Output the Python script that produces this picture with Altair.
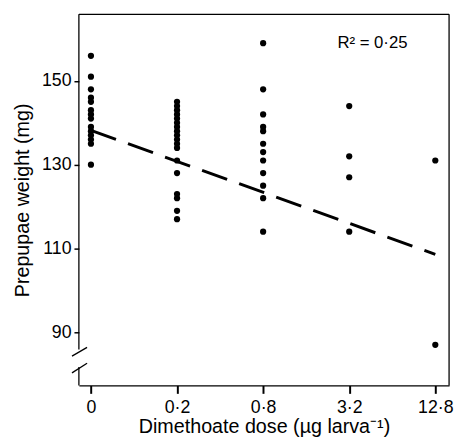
import altair as alt
import pandas as pd

# ---- data ----
dose_labels = ["0", "0·2", "0·8", "3·2", "12·8"]
w_d0 = [156, 151, 148, 146, 145, 143, 142, 141, 139, 138, 137, 136, 135, 130]
w_d02 = [145, 144, 143, 142, 141, 140, 139, 138, 137, 136, 135, 134, 131, 128, 123, 122, 119, 117]
w_d08 = [159, 148, 142, 139, 138, 135, 133, 131, 128, 125, 122, 114]
w_d32 = [144, 132, 127, 114]
w_d128 = [131, 87]
fit_dose_idx = [0, 4]
fit_weight = [138.2, 108.6]
r2_text = "R² = 0·25"

# ---- build tables ----
rows = []
for i, ws in enumerate([w_d0, w_d02, w_d08, w_d32, w_d128]):
    for w in ws:
        rows.append({"idx": i, "w": w})
pts = pd.DataFrame(rows)
fit = pd.DataFrame({"idx": fit_dose_idx, "w": fit_weight})

xmin, xmax = -0.14, 4.16
ymin, ymax = 77.3, 165.9
brk_lo, brk_hi = 81.7, 85.9

frame = pd.DataFrame([
    {"x": xmin, "y": ymax, "x2": xmax, "y2": ymax},
    {"x": xmax, "y": ymax, "x2": xmax, "y2": ymin},
    {"x": xmin, "y": ymax, "x2": xmin, "y2": brk_hi},
    {"x": xmin, "y": brk_lo, "x2": xmin, "y2": ymin},
])
slashes = pd.DataFrame([
    {"x": xmin - 0.08, "y": brk_hi - 1.6, "x2": xmin + 0.095, "y2": brk_hi + 0.5},
    {"x": xmin - 0.08, "y": brk_lo - 1.4, "x2": xmin + 0.095, "y2": brk_lo + 0.9},
])

FONT = "Liberation Sans"
label_expr = "[" + ",".join("'%s'" % l for l in dose_labels) + "][datum.value]"

xs = alt.Scale(domain=[xmin, xmax], nice=False, zero=False)
ys = alt.Scale(domain=[ymin, ymax], nice=False, zero=False)

x_axis = alt.Axis(values=[0, 1, 2, 3, 4], labelExpr=label_expr, title="Dimethoate dose (µg larva⁻¹)",
                  grid=False, domain=True, domainColor="black", domainWidth=1.3,
                  ticks=True, tickSize=8, tickWidth=2, tickColor="black",
                  labelFontSize=18, labelColor="black", labelFont=FONT, labelPadding=5,
                  titleFontSize=20, titleFont=FONT, titleFontWeight="normal", titleColor="black", titlePadding=1)
y_axis = alt.Axis(values=[90, 110, 130, 150], title="Prepupae weight (mg)",
                  grid=False, domain=False, ticks=True, tickSize=5, tickWidth=1.5, tickColor="black",
                  labelFontSize=18, labelColor="black", labelFont=FONT, labelPadding=3,
                  titleFontSize=20, titleFont=FONT, titleFontWeight="normal", titleColor="black", titlePadding=9)

points = alt.Chart(pts).mark_circle(size=40, color="black", opacity=1).encode(
    x=alt.X("idx:Q", scale=xs, axis=x_axis),
    y=alt.Y("w:Q", scale=ys, axis=y_axis),
)
line = alt.Chart(fit).mark_line(color="black", strokeWidth=3, strokeDash=[27, 13]).encode(
    x=alt.X("idx:Q", scale=xs), y=alt.Y("w:Q", scale=ys)
)
frame_l = alt.Chart(frame).mark_rule(color="black", strokeWidth=1.3).encode(
    x=alt.X("x:Q", scale=xs), y=alt.Y("y:Q", scale=ys), x2="x2:Q", y2="y2:Q"
)
slash_l = alt.Chart(slashes).mark_rule(color="black", strokeWidth=1.3, clip=False).encode(
    x=alt.X("x:Q", scale=xs), y=alt.Y("y:Q", scale=ys), x2="x2:Q", y2="y2:Q"
)
r2 = alt.Chart(pd.DataFrame({"x": [3.27], "y": [159.0], "t": [r2_text]})).mark_text(
    fontSize=17, font=FONT, color="black").encode(
    x=alt.X("x:Q", scale=xs), y=alt.Y("y:Q", scale=ys), text="t:N")

chart = alt.layer(frame_l, slash_l, line, points, r2).properties(
    width=376, height=377, padding={"left": 4, "top": 2, "right": 0, "bottom": 0}
).configure_view(stroke=None)

chart.save("out.html", embed_options={"renderer": "svg", "actions": False})
